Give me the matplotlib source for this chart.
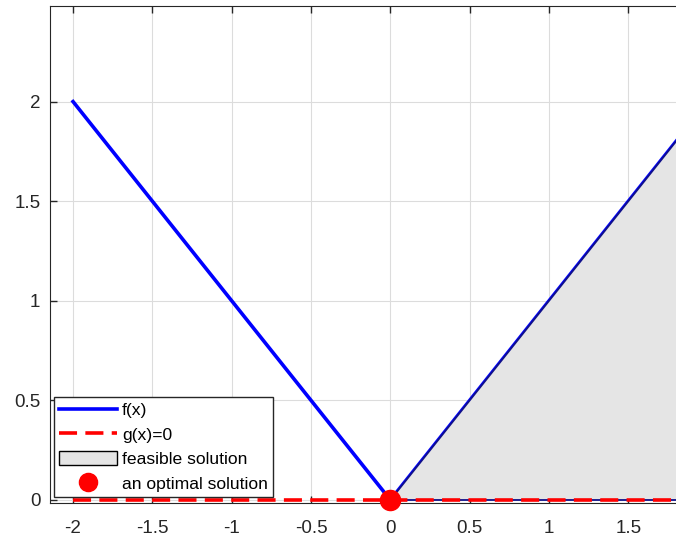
import numpy as np
import matplotlib
matplotlib.use("Agg")
import matplotlib.pyplot as plt
from matplotlib.patches import Polygon

plt.rcParams['font.family'] = ['Liberation Sans', 'DejaVu Sans']

# data
x_f = [-2, 0, 2]
y_f = [2, 0, 2]
x_g = [-2, 2]
y_g = [0, 0]
feasible_x = [0, 2, 2]
feasible_y = [0, 2, 0]
opt_x = [0]
opt_y = [0]
xticks = [-2, -1.5, -1, -0.5, 0, 0.5, 1, 1.5]
yticks = [0, 0.5, 1, 1.5, 2]

fig = plt.figure(figsize=(6.76, 5.43), dpi=100)
ax = fig.add_axes([0.074, 0.0737, 0.926, 0.9153])

ax.plot(x_f, y_f, color='#0000ff', lw=2.6, label='f(x)', zorder=3)
ax.plot(x_g, y_g, color='#ff0000', lw=2.6, ls=(0, (5, 2.3)), label='g(x)=0', zorder=5)
patch = Polygon(np.column_stack([feasible_x, feasible_y]), closed=True,
                facecolor='#e5e5e5', edgecolor='#10108a', lw=1.3, zorder=4)
ax.add_patch(patch)
ax.plot(opt_x, opt_y, 'o', color='#ff0000', ms=14.5, label='an optimal solution', zorder=6, clip_on=False)

ax.set_xlim(-2.145, 1.80)
ax.set_ylim(-0.015, 2.48)
ax.set_xticks(xticks)
ax.set_yticks(yticks)
ax.set_xticklabels(['-2', '-1.5', '-1', '-0.5', '0', '0.5', '1', '1.5'])
ax.set_yticklabels(['0', '0.5', '1', '1.5', '2'])
ax.grid(True, color='#dcdcdc', lw=0.8)
ax.set_axisbelow(True)
ax.tick_params(direction='in', top=True, right=False, labelsize=13.5,
               colors='#262626', length=5, width=1)
ax.tick_params(axis='x', pad=12)
ax.tick_params(axis='y', pad=7)
for s in ['left', 'bottom', 'top']:
    ax.spines[s].set_color('#262626')
ax.spines['right'].set_visible(False)

handles, labels = ax.get_legend_handles_labels()
legend_patch = Polygon([[0, 0]], facecolor='#e5e5e5', edgecolor='black', lw=1)
handles = [handles[0], handles[1], legend_patch, handles[2]]
labels = ['f(x)', 'g(x)=0', 'feasible solution', 'an optimal solution']
leg = ax.legend(handles, labels, loc='lower left', bbox_to_anchor=(0.006, 0.012),
                borderaxespad=0, fontsize=12.6, handlelength=3.3, handletextpad=0.3,
                labelspacing=0.48, borderpad=0.3, fancybox=False, framealpha=1,
                markerscale=0.9, handleheight=0.85)
leg.get_frame().set_edgecolor('#262626')
leg.get_frame().set_linewidth(1)
leg.set_zorder(10)

fig.savefig('out.png', dpi=100)
